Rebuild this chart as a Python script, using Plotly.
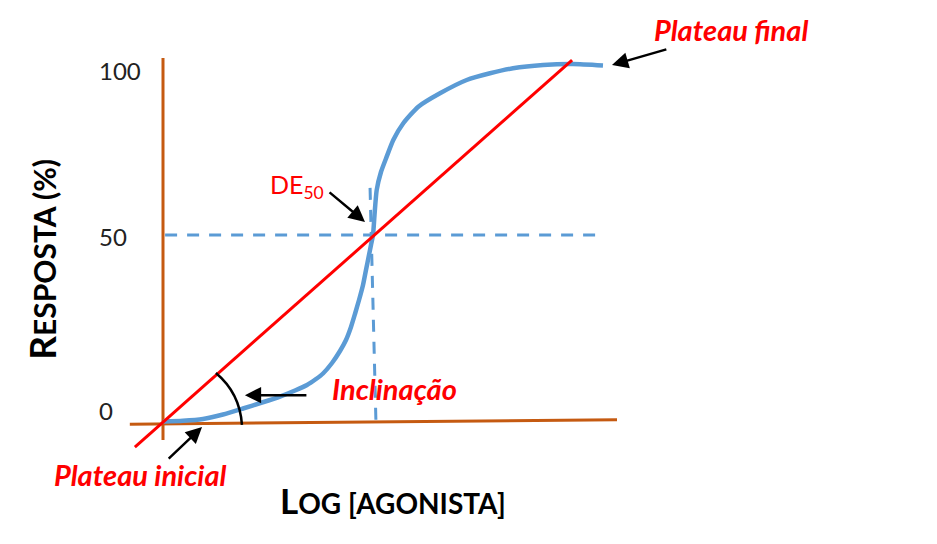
import plotly.graph_objects as go

# ---- data (diagram units: x = log[agonista], y = resposta %) ----
curve_x = [0.000, 0.476, 0.952, 1.429, 1.905, 2.357, 2.786, 3.143, 3.429, 3.643, 3.810,
           4.024, 4.214, 4.357, 4.476, 4.571, 4.667, 4.762, 4.833, 4.905, 4.952, 5.000,
           5.036, 5.088, 5.190, 5.326, 5.483, 5.721, 6.079, 6.595, 7.231, 7.786, 8.333,
           9.048, 9.762, 10.476]
curve_y = [0.14, 0.34, 0.84, 2.09, 3.77, 5.45, 7.12, 8.80, 10.34, 12.01, 13.55,
           16.48, 19.83, 22.91, 26.54, 30.17, 34.08, 38.27, 42.46, 46.65, 49.44, 52.23,
           57.82, 64.80, 69.83, 74.11, 78.77, 83.44, 88.07, 91.82, 95.53, 97.40, 98.80,
           99.72, 100.0, 99.58]

fit_x = [-0.67, 9.74]
fit_y = [-7.0, 101.1]

yaxis_line_x = [0.0, 0.0]
yaxis_line_y = [101.7, -5.0]
xaxis_line_x = [-0.79, 10.81]
xaxis_line_y = [-0.6, 0.6]

ec50_h_x = [0.05, 10.48]
ec50_h_y = [52.2, 52.2]
ec50_v_x = [4.93, 5.07]
ec50_v_y = [65.4, 0.0]

tick_labels = ["100", "50", "0"]
tick_y = [98.3, 51.7, 3.1]
tick_x = -1.57

# arc marking the slope (start, control, end)
arc_pts = [(1.26, 13.7), (1.83, 8.1), (1.88, -0.8)]

# arrows: (tail_x, tail_y, tip_x, tip_y)
arrows = [
    (12.02, 104.2, 10.69, 99.7),   # plateau final
    (3.93, 64.5, 4.81, 55.9),      # DE50
    (3.45, 7.5, 1.95, 7.5),        # inclinacao
    (0.10, -10.6, 0.93, -1.4),     # plateau inicial
]

ORANGE = "#C55A11"
BLUE = "#5B9BD5"
RED = "#FF0000"
FONT = "Lato"

fig = go.Figure()
fig.add_trace(go.Scatter(x=yaxis_line_x, y=yaxis_line_y, mode="lines",
                         line=dict(color=ORANGE, width=3), hoverinfo="skip"))
fig.add_trace(go.Scatter(x=xaxis_line_x, y=xaxis_line_y, mode="lines",
                         line=dict(color=ORANGE, width=3), hoverinfo="skip"))
fig.add_trace(go.Scatter(x=ec50_h_x, y=ec50_h_y, mode="lines",
                         line=dict(color=BLUE, width=3, dash="12px,10px"), hoverinfo="skip"))
fig.add_trace(go.Scatter(x=ec50_v_x, y=ec50_v_y, mode="lines",
                         line=dict(color=BLUE, width=3, dash="12px,10px"), hoverinfo="skip"))
fig.add_trace(go.Scatter(x=curve_x, y=curve_y, mode="lines",
                         line=dict(color=BLUE, width=4.5, shape="spline", smoothing=0.6),
                         hoverinfo="skip"))
fig.add_trace(go.Scatter(x=fit_x, y=fit_y, mode="lines",
                         line=dict(color=RED, width=3), hoverinfo="skip"))

(p0, p1, p2) = arc_pts
fig.add_shape(type="path", xref="x", yref="y",
              path=f"M {p0[0]},{p0[1]} Q {p1[0]},{p1[1]} {p2[0]},{p2[1]}",
              line=dict(color="black", width=2.5))

for tx, ty, hx, hy in arrows:
    fig.add_annotation(x=hx, y=hy, ax=tx, ay=ty, xref="x", yref="y", axref="x", ayref="y",
                       text="", showarrow=True, arrowhead=2, arrowsize=1.3, arrowwidth=2.5,
                       arrowcolor="black")

for lab, ty in zip(tick_labels, tick_y):
    fig.add_annotation(x=tick_x, y=ty, text=lab, showarrow=False, xanchor="left",
                       yanchor="middle", font=dict(family=FONT, size=24, color="#222222"))

red_font = dict(family=FONT, size=29, color=RED)
fig.add_annotation(x=11.64, y=109.5, text="<b><i>Plateau final</i></b>", showarrow=False,
                   xanchor="left", yanchor="middle", font=red_font)
fig.add_annotation(x=3.98, y=9.5, text="<b><i>Inclinação</i></b>", showarrow=False,
                   xanchor="left", yanchor="middle", font=red_font)
fig.add_annotation(x=-2.64, y=-14.8, text="<b><i>Plateau inicial</i></b>", showarrow=False,
                   xanchor="left", yanchor="middle", font=red_font)
fig.add_annotation(x=2.5, y=66.0, text="DE<sub>50</sub>", showarrow=False,
                   xanchor="left", yanchor="middle", font=dict(family=FONT, size=25, color=RED))

fig.add_annotation(x=5.48, y=-21.8,
                   text="<b><span style='font-size:35px'>L</span>OG [AGONISTA]</b>",
                   showarrow=False, xanchor="center", yanchor="middle",
                   font=dict(family=FONT, size=28, color="black"))
fig.add_annotation(x=-2.88, y=45.3, textangle=-90,
                   text="<b><span style='font-size:37px'>R</span>ESPOSTA (%)</b>",
                   showarrow=False, xanchor="center", yanchor="middle",
                   font=dict(family=FONT, size=30, color="black"))

fig.update_layout(
    width=921, height=528, margin=dict(l=0, r=0, t=0, b=0),
    paper_bgcolor="white", plot_bgcolor="white", showlegend=False,
    xaxis=dict(range=[-3.6905, 18.238], visible=False, fixedrange=True),
    yaxis=dict(range=[-31.84, 115.64], visible=False, fixedrange=True),
)

fig.write_html("out.html")
